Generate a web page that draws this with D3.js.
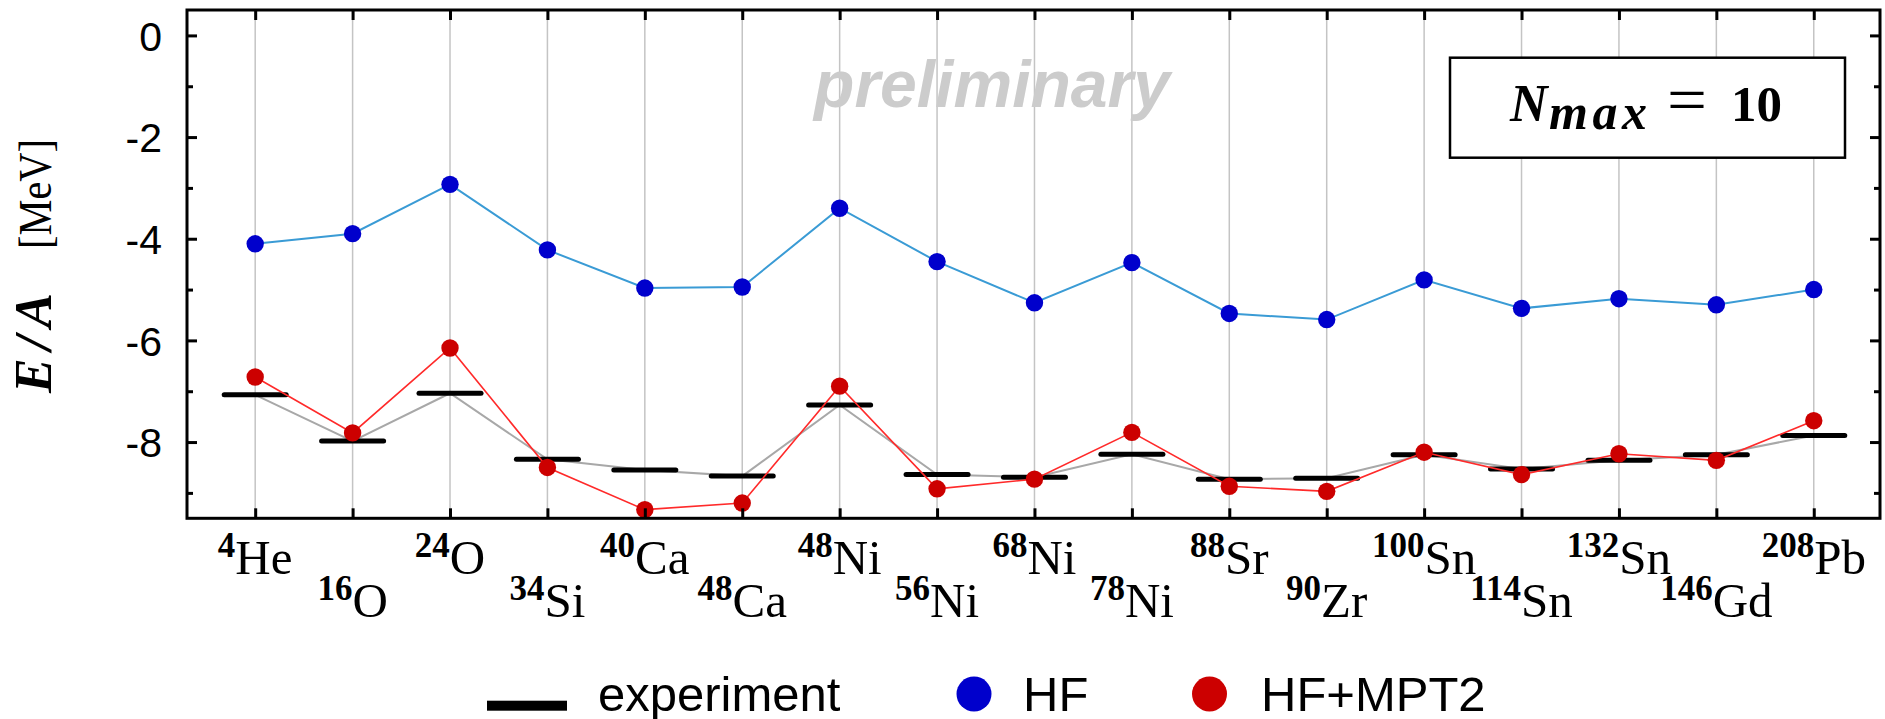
<!DOCTYPE html>
<html>
<head>
<meta charset="utf-8">
<script src="https://cdn.jsdelivr.net/npm/d3@7"></script>
<style>
  html, body { margin: 0; padding: 0; background: #fff; }
  svg { display: block; }
</style>
</head>
<body>
<svg id="chart" width="1885" height="719"></svg>
<script>
// Ground-state energy per nucleon for closed-shell nuclei, N_max = 10
const massNumbers = [4, 16, 24, 34, 40, 48, 48, 56, 68, 78, 88, 90, 100, 114, 132, 146, 208];
const elements = ["He", "O", "O", "Si", "Ca", "Ca", "Ni", "Ni", "Ni", "Ni", "Sr", "Zr", "Sn", "Sn", "Sn", "Gd", "Pb"];
const experiment = [-7.07, -7.98, -7.04, -8.34, -8.55, -8.67, -7.27, -8.64, -8.69, -8.24, -8.73, -8.71, -8.25, -8.53, -8.36, -8.25, -7.87];
const hf = [-4.10, -3.90, -2.93, -4.22, -4.97, -4.95, -3.40, -4.45, -5.26, -4.47, -5.47, -5.59, -4.81, -5.37, -5.18, -5.30, -5.00];
const hfMpt2 = [-6.72, -7.82, -6.15, -8.50, -9.33, -9.20, -6.90, -8.92, -8.73, -7.81, -8.87, -8.97, -8.20, -8.64, -8.23, -8.36, -7.58];
const majorTicks = [0, -2, -4, -6, -8];
const minorTicks = [-1, -3, -5, -7, -9];
const legendLabels = ["experiment", "HF", "HF+MPT2"];

const svg = d3.select("#chart");
const plotLeft = 187, plotRight = 1880, plotTop = 10, plotBottom = 518.3;

const idx = d3.range(massNumbers.length);
const x = d3.scaleLinear().domain([-0.7, 16.68]).range([plotLeft, plotRight]);
const y = d3.scaleLinear().domain([-9.5, 0.5]).range([plotBottom, plotTop]);

const SERIF = "'Liberation Serif', 'Times New Roman', serif";
const SANS = "'Liberation Sans', Arial, Helvetica, sans-serif";

// vertical grid lines at each nucleus
svg.append("g").selectAll("line").data(idx).join("line")
  .attr("x1", d => x(d)).attr("x2", d => x(d))
  .attr("y1", plotTop).attr("y2", plotBottom)
  .attr("stroke", "#c4c4c4").attr("stroke-width", 1.5);

// watermark
svg.append("text")
  .attr("x", 992).attr("y", 106.7)
  .attr("text-anchor", "middle")
  .attr("font-family", SANS).attr("font-size", 66)
  .attr("font-weight", "bold").attr("font-style", "italic")
  .attr("fill", "#cccccc")
  .text("preliminary");

// N_max box
const box = svg.append("g");
box.append("rect")
  .attr("x", 1450).attr("y", 57.7).attr("width", 395).attr("height", 100)
  .attr("fill", "#fff").attr("stroke", "#000").attr("stroke-width", 2.5);
box.append("text").attr("x", 1510).attr("y", 120.7)
  .attr("font-family", SERIF).attr("font-size", 52)
  .attr("font-weight", "bold").attr("font-style", "italic").text("N");
box.append("text").attr("x", 1549).attr("y", 128.5)
  .attr("font-family", SERIF).attr("font-size", 50)
  .attr("font-weight", "bold").attr("font-style", "italic")
  .attr("textLength", 98).attr("lengthAdjust", "spacing").text("max");
box.append("text").attr("x", 1667).attr("y", 122)
  .attr("font-family", SERIF).attr("font-size", 66)
  .attr("textLength", 40).attr("lengthAdjust", "spacingAndGlyphs").text("=");
box.append("text").attr("x", 1731).attr("y", 120.7)
  .attr("font-family", SERIF).attr("font-size", 51)
  .attr("font-weight", "bold").text("10");

// series lines
const line = series => d3.line().x((d, i) => x(i)).y(d => y(d))(series);

svg.append("path").attr("d", line(experiment))
  .attr("fill", "none").attr("stroke", "#a8a8a8").attr("stroke-width", 2);

// experimental values as horizontal bars
svg.append("g").selectAll("line").data(experiment).join("line")
  .attr("x1", (d, i) => x(i) - 31).attr("x2", (d, i) => x(i) + 31)
  .attr("y1", d => y(d)).attr("y2", d => y(d))
  .attr("stroke", "#000").attr("stroke-width", 5).attr("stroke-linecap", "round");

svg.append("path").attr("d", line(hf))
  .attr("fill", "none").attr("stroke", "#3a9bd5").attr("stroke-width", 2);
svg.append("path").attr("d", line(hfMpt2))
  .attr("fill", "none").attr("stroke", "#ff2a2a").attr("stroke-width", 1.6);

svg.append("g").selectAll("circle").data(hf).join("circle")
  .attr("cx", (d, i) => x(i)).attr("cy", d => y(d)).attr("r", 8.7)
  .attr("fill", "#0000cc");
svg.append("g").selectAll("circle").data(hfMpt2).join("circle")
  .attr("cx", (d, i) => x(i)).attr("cy", d => y(d)).attr("r", 8.7)
  .attr("fill", "#cc0000");

// axes (ticks point inward)
function styleAxis(g) {
  g.select(".domain").remove();
  g.selectAll(".tick line").attr("stroke", "#000").attr("stroke-width", 3);
}
svg.append("g").attr("transform", `translate(${plotLeft},0)`)
  .call(d3.axisLeft(y).tickValues(majorTicks).tickSize(-10).tickPadding(25)
    .tickFormat(d => String(d)))
  .call(styleAxis)
  .call(g => g.selectAll(".tick text")
    .attr("font-family", SANS).attr("font-size", 41).attr("fill", "#000").attr("dy", "0.36em"));
svg.append("g").attr("transform", `translate(${plotLeft},0)`)
  .call(d3.axisLeft(y).tickValues(minorTicks).tickSize(-6).tickFormat(""))
  .call(styleAxis);
svg.append("g").attr("transform", `translate(${plotRight},0)`)
  .call(d3.axisRight(y).tickValues(majorTicks).tickSize(-10).tickFormat(""))
  .call(styleAxis);
svg.append("g").attr("transform", `translate(${plotRight},0)`)
  .call(d3.axisRight(y).tickValues(minorTicks).tickSize(-6).tickFormat(""))
  .call(styleAxis);
svg.append("g").attr("transform", `translate(0,${plotBottom})`)
  .call(d3.axisBottom(x).tickValues(idx).tickSize(-10).tickFormat(""))
  .call(styleAxis);
svg.append("g").attr("transform", `translate(0,${plotTop})`)
  .call(d3.axisTop(x).tickValues(idx).tickSize(-10).tickFormat(""))
  .call(styleAxis);

// frame
svg.append("rect")
  .attr("x", plotLeft).attr("y", plotTop)
  .attr("width", plotRight - plotLeft).attr("height", plotBottom - plotTop)
  .attr("fill", "none").attr("stroke", "#000").attr("stroke-width", 3);

// nucleus labels in two staggered rows
const labels = svg.append("g").selectAll("text").data(idx).join("text")
  .attr("x", d => x(d))
  .attr("y", d => d % 2 === 0 ? 573.5 : 616.7)
  .attr("text-anchor", "middle")
  .attr("font-family", SERIF).attr("fill", "#000");
labels.append("tspan").attr("font-size", 35).attr("font-weight", "bold")
  .attr("dy", -17).text(d => massNumbers[d]);
labels.append("tspan").attr("font-size", 49).attr("dy", 17).text(d => elements[d]);

// y-axis title
const yTitle = svg.append("g").attr("transform", "translate(51,265) rotate(-90)");
yTitle.append("text").attr("x", -128).attr("y", 0)
  .attr("text-anchor", "start")
  .attr("font-family", SERIF).attr("font-size", 52)
  .attr("font-weight", "bold").attr("font-style", "italic")
  .attr("textLength", 100).attr("lengthAdjust", "spacing").text("E/A");
yTitle.append("text").attr("x", 126).attr("y", 0)
  .attr("text-anchor", "end")
  .attr("font-family", SERIF).attr("font-size", 47)
  .attr("textLength", 110).attr("lengthAdjust", "spacingAndGlyphs").text("[MeV]");

// legend
const legend = svg.append("g");
legend.append("rect").attr("x", 487).attr("y", 700.7).attr("width", 80).attr("height", 10).attr("fill", "#000");
legend.append("circle").attr("cx", 974).attr("cy", 694).attr("r", 17.5).attr("fill", "#0000cc");
legend.append("circle").attr("cx", 1209.5).attr("cy", 694).attr("r", 17.5).attr("fill", "#cc0000");
legend.selectAll("text").data(legendLabels).join("text")
  .attr("x", (d, i) => [598, 1023, 1261][i]).attr("y", 710.7)
  .attr("font-family", SANS).attr("font-size", 49).attr("fill", "#000")
  .text(d => d);
</script>
</body>
</html>
